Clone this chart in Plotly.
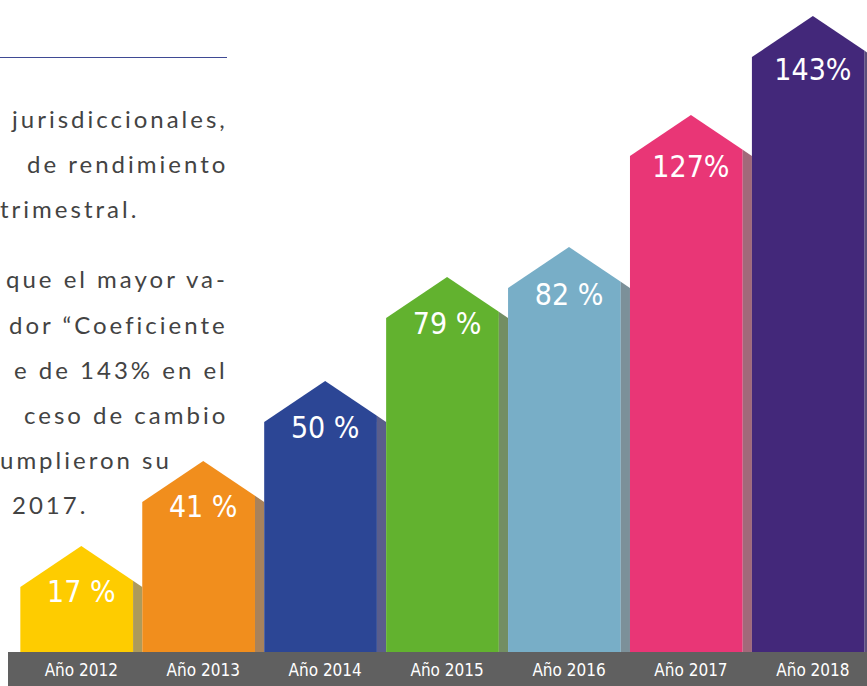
import plotly.graph_objects as go

# ---- data ----
years = ["Año 2012", "Año 2013", "Año 2014", "Año 2015", "Año 2016", "Año 2017", "Año 2018"]
percent_labels = ["17 %", "41 %", "50 %", "79 %", "82 %", "127%", "143%"]
# visual height of each bar's wall (up to the roof shoulder), in pixels above the band
shoulder_heights = [65, 150, 230, 334, 364, 496, 595]

body_colors = ["#FECC00", "#F18E1D", "#2C4695", "#62B22F", "#78AEC7", "#E93676", "#43287A"]
shadow_colors = ["#AD9A5B", "#A8825B", "#5A5E8B", "#738E62", "#7C9099", "#A1697A", "#5B4E7A"]

text_lines = [
    ("jurisdiccionales,", "right", 125),
    ("de rendimiento", "right", 170),
    ("trimestral.", "left", 215),
    ("que el mayor va-", "right", 285),
    ("dor “Coeficiente", "right", 331),
    ("e de 143% en el", "right", 376),
    ("ceso de cambio", "right", 421),
    ("umplieron su", "left", 466),
    ("2017.", "left12", 511),
]

# ---- geometry / style ----
W_PX, H_PX = 867, 686
BAND_H = 34
PLOT_H = H_PX - BAND_H           # 652 px, 1 y-unit = 1 px
SPACING = 121.93                 # px per category
X0 = 81.3                        # px centre of first category
W = 1.0                          # house width in category units
S = 9.2 / SPACING                # shadow strip width
RISE = 41                        # roof height in px
LABEL_DROP = [7, 7, 8, 8, 9, 13, 15]   # label centre below the roof shoulder (px)
NARROW = "Liberation Sans Narrow, DejaVu Sans Condensed, sans-serif"

fig = go.Figure()

for i, (h, c, sc) in enumerate(zip(shoulder_heights, body_colors, shadow_colors)):
    L = i - W / 2
    R = i + W / 2
    Rc = R - S

    def roof(x, h=h, i=i):
        return h + RISE * (1 - abs(x - i) / (W / 2))

    fig.add_trace(go.Scatter(
        x=[L, L, i, Rc, Rc, L], y=[0, h, h + RISE, roof(Rc), 0, 0],
        mode="lines", fill="toself", fillcolor=c, line=dict(width=0, color=c),
        hoverinfo="skip", showlegend=False))
    fig.add_trace(go.Scatter(
        x=[Rc, Rc, R, R, Rc], y=[0, roof(Rc), h, 0, 0],
        mode="lines", fill="toself", fillcolor=sc, line=dict(width=0, color=sc),
        hoverinfo="skip", showlegend=False))

fig.add_trace(go.Scatter(
    x=list(range(len(years))), y=[h - d for h, d in zip(shoulder_heights, LABEL_DROP)],
    mode="text", text=percent_labels,
    textfont=dict(family=NARROW, size=30, color="white"),
    textposition="middle center", hoverinfo="skip", showlegend=False))

xmin = (0 - X0) / SPACING
xmax = (W_PX - X0) / SPACING

annotations = []
for txt, align, base in text_lines:
    yc = PLOT_H - (base - 7)
    styled = '<span style="letter-spacing:3px">' + txt + '</span>'
    font = dict(family="Lato, sans-serif", size=24, color="#434343")
    if align == "right":
        annotations.append(dict(x=230 / W_PX, xref="paper", y=yc, yref="y", text=styled,
                                xanchor="right", yanchor="middle", showarrow=False, font=font))
    else:
        xpx = 10 if align == "left12" else -2
        annotations.append(dict(x=xpx / W_PX, xref="paper", y=yc, yref="y", text=styled,
                                xanchor="left", yanchor="middle", showarrow=False, font=font))

shapes = [
    dict(type="rect", xref="paper", yref="paper", x0=8 / W_PX, x1=1, y0=-BAND_H / PLOT_H, y1=0,
         fillcolor="#606060", line=dict(width=0), layer="below"),
    dict(type="line", xref="paper", yref="y", x0=0, x1=227 / W_PX, y0=PLOT_H - 57.5, y1=PLOT_H - 57.5,
         line=dict(color="#3F4A94", width=1)),
]

fig.update_layout(
    width=W_PX, height=H_PX,
    margin=dict(l=0, r=0, t=0, b=BAND_H, pad=0),
    paper_bgcolor="white", plot_bgcolor="rgba(0,0,0,0)",
    showlegend=False,
    xaxis=dict(range=[xmin, xmax], tickmode="array", tickvals=list(range(len(years))),
               ticktext=years, showgrid=False, zeroline=False, showline=False, ticks="",
               tickfont=dict(family=NARROW, size=17, color="white"),
               ticklabelstandoff=6, fixedrange=True),
    yaxis=dict(range=[0, PLOT_H], showgrid=False, zeroline=False, showline=False,
               showticklabels=False, ticks="", fixedrange=True),
    annotations=annotations,
    shapes=shapes,
)

fig.write_html("out.html", config=dict(displayModeBar=False),
               post_script="document.body.style.margin='0';document.body.style.overflow='hidden';")
